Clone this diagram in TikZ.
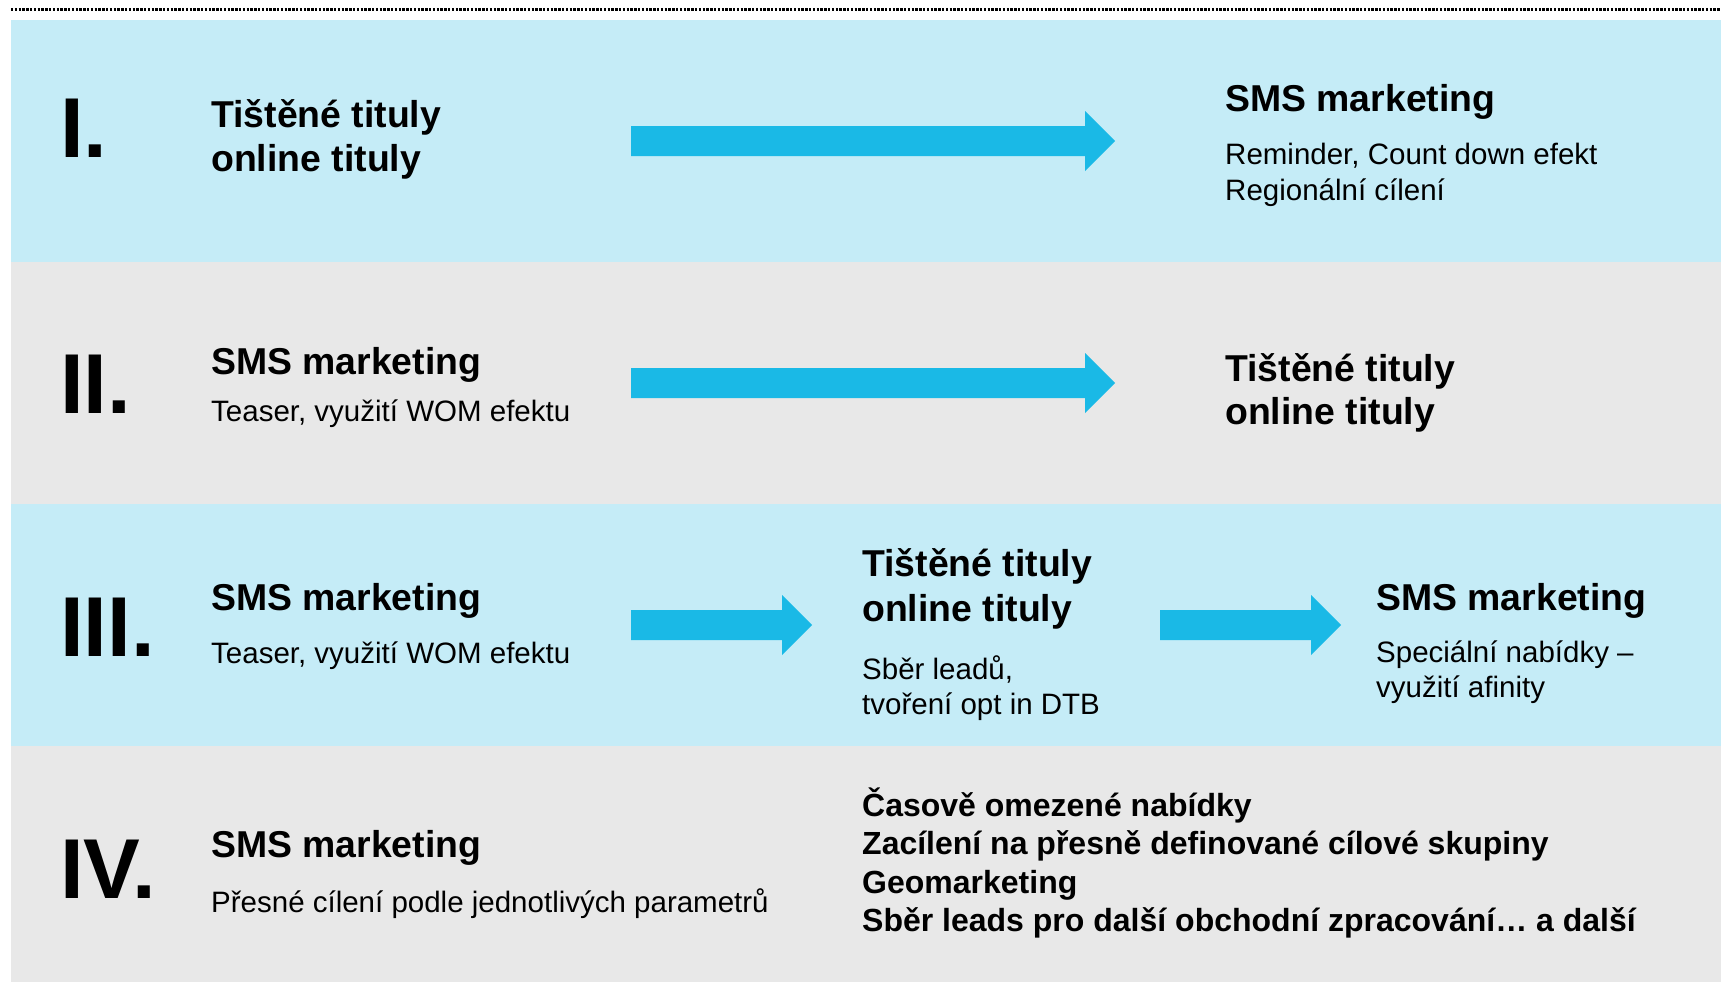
\documentclass[tikz,border=0pt]{standalone}
\usepackage{fontspec}
\setmainfont{Liberation Sans}
\definecolor{bandblue}{RGB}{197,236,247}
\definecolor{bandgray}{RGB}{232,232,232}
\definecolor{arrowblue}{RGB}{26,185,230}
\tikzset{
  numeral/.style={font=\bfseries\fontsize{85}{85}\selectfont, anchor=base west, inner sep=0pt},
  title/.style={font=\bfseries\fontsize{37.4}{41}\selectfont, anchor=base west, inner sep=0pt},
  subtext/.style={font=\fontsize{29.5}{35}\selectfont, anchor=base west, inner sep=0pt},
  item/.style={font=\bfseries\fontsize{32}{35}\selectfont, anchor=base west, inner sep=0pt},
  arrowfill/.style={fill=arrowblue},
}
\begin{document}
\begin{tikzpicture}[x=1pt,y=-1pt]
\useasboundingbox (0,0) rectangle (1721,982);

% dotted rule across the top
\draw[line width=3pt, dash pattern=on 2.4pt off 1.4pt] (11,10) -- (1721,10);

% row bands
\fill[bandblue] (11,20) rectangle (1721,262);
\fill[bandgray] (11,262) rectangle (1721,504);
\fill[bandblue] (11,504) rectangle (1721,746);
\fill[bandgray] (11,746) rectangle (1721,982);

% ---------- row I ----------
\node[numeral] (n1) at (60,157) {I.};
\node[title] (r1a) at (211,127) {Tištěné tituly};
\node[title] (r1b) at (211,171) {online tituly};
\node[title] (r1c) at (1225,111) {SMS marketing};
\node[subtext] (r1d) at (1225,164) {Reminder, Count down efekt};
\node[subtext] (r1e) at (1225,200) {Regionální cílení};
\coordinate (a1) at (631,141);
\fill[arrowfill] (a1) ++(0,-15) -- ++(454,0) -- ++(0,-15) -- ++(30,30)
  -- ++(-30,30) -- ++(0,-15) -- ++(-454,0) -- cycle;

% ---------- row II ----------
\node[numeral] (n2) at (60,413) {II.};
\node[title] (r2a) at (211,374) {SMS marketing};
\node[subtext] (r2b) at (211,421) {Teaser, využití WOM efektu};
\node[title] (r2c) at (1225,381) {Tištěné tituly};
\node[title] (r2d) at (1225,424) {online tituly};
\coordinate (a2) at (631,383);
\fill[arrowfill] (a2) ++(0,-15) -- ++(454,0) -- ++(0,-15) -- ++(30,30)
  -- ++(-30,30) -- ++(0,-15) -- ++(-454,0) -- cycle;

% ---------- row III ----------
\node[numeral] (n3) at (60,656) {III.};
\node[title] (r3a) at (211,610) {SMS marketing};
\node[subtext] (r3b) at (211,663) {Teaser, využití WOM efektu};
\node[title] (r3c) at (862,576) {Tištěné tituly};
\node[title] (r3d) at (862,621) {online tituly};
\node[subtext] (r3e) at (862,679) {Sběr leadů,};
\node[subtext] (r3f) at (862,714) {tvoření opt in DTB};
\node[title] (r3g) at (1376,610) {SMS marketing};
\node[subtext] (r3h) at (1376,662) {Speciální nabídky –};
\node[subtext] (r3i) at (1376,697) {využití afinity};
\coordinate (a3) at (631,625);
\fill[arrowfill] (a3) ++(0,-15) -- ++(151,0) -- ++(0,-15) -- ++(30,30)
  -- ++(-30,30) -- ++(0,-15) -- ++(-151,0) -- cycle;
\coordinate (a4) at (1160,625);
\fill[arrowfill] (a4) ++(0,-15) -- ++(151,0) -- ++(0,-15) -- ++(30,30)
  -- ++(-30,30) -- ++(0,-15) -- ++(-151,0) -- cycle;

% ---------- row IV ----------
\node[numeral] (n4) at (60,898) {IV.};
\node[title] (r4a) at (211,857) {SMS marketing};
\node[subtext] (r4b) at (211,912) {Přesné cílení podle jednotlivých parametrů};
\node[item] (r4c) at (862,816) {Časově omezené nabídky};
\node[item] (r4d) at (862,854) {Zacílení na přesně definované cílové skupiny};
\node[item] (r4e) at (862,893) {Geomarketing};
\node[item] (r4f) at (862,931) {Sběr leads pro další obchodní zpracování… a další};
\end{tikzpicture}
\end{document}
